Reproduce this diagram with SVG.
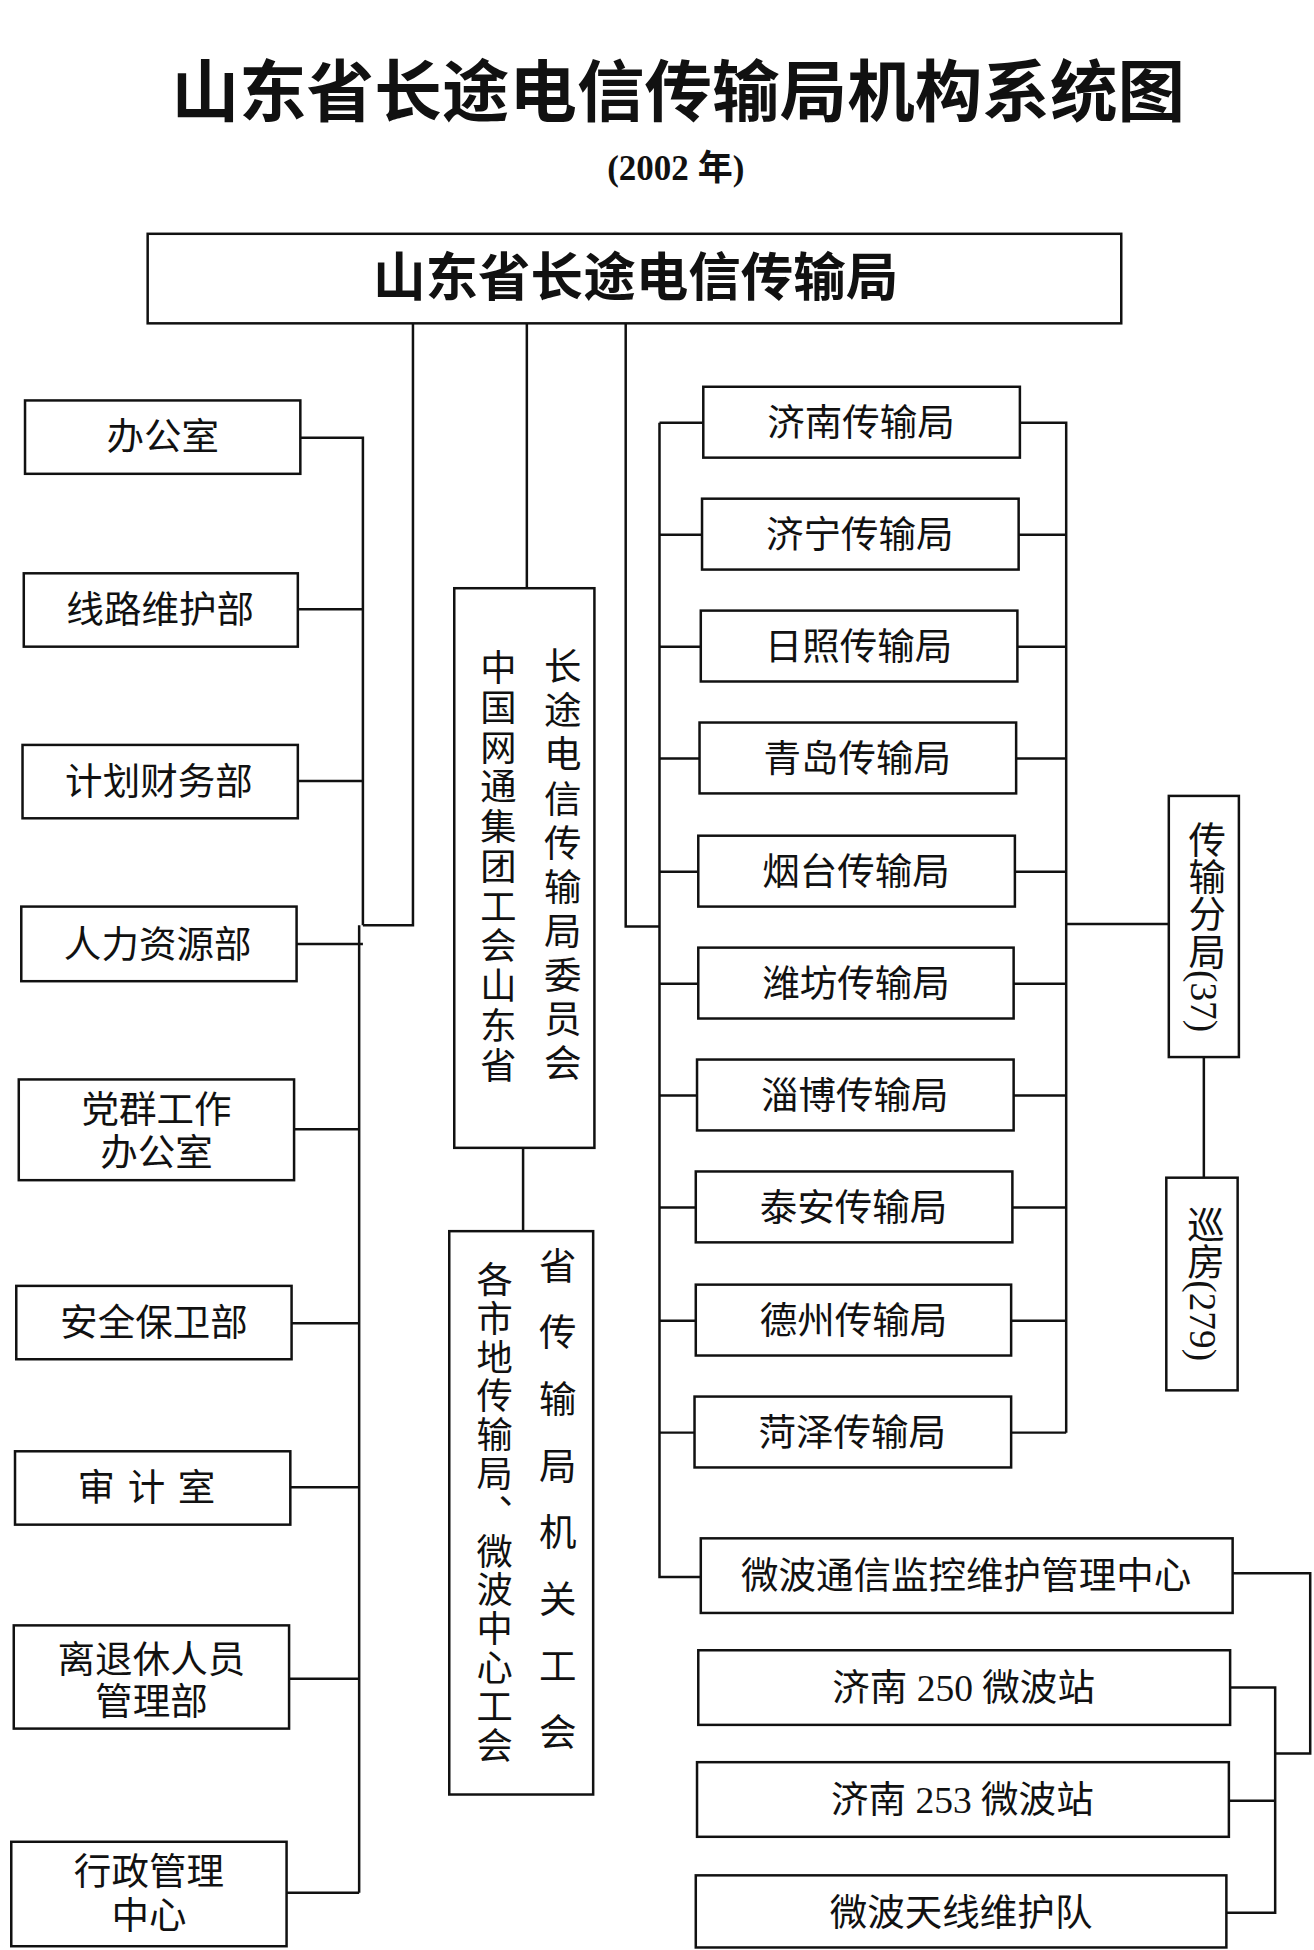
<svg xmlns="http://www.w3.org/2000/svg" width="1314" height="1950" viewBox="0 0 1314 1950">
<style>
text{font-family:"Liberation Serif","Noto Sans CJK SC",serif;fill:#111}
.b{fill:#fff;stroke:#111;stroke-width:2}
.t{font-size:30px;text-anchor:middle}
.v{font-size:30px;writing-mode:vertical-rl;text-anchor:middle}
.c{fill:none;stroke:#111;stroke-width:2}
</style>
<rect width="1314" height="1950" fill="#fff"/>
<g transform="scale(1.2514 1.2436)">
<text x="542" y="93" style="font-size:54px;font-weight:bold;text-anchor:middle">山东省长途电信传输局机构系统图</text>
<text x="540" y="145" style="font-size:28px;font-weight:bold;text-anchor:middle">(2002 年)</text>
<g id="connectors" class="c">
<path d="M330 260V744H290M240 352H290V744M421 260V473M500 260V745H527"/>
<path d="M238 490H290M238 628H290M237 759H290M287 744V1522M235 908H287M233 1064H287M232 1196H287M231 1350H287M229 1522H287"/>
<path d="M418 923V990"/>
<path d="M527 340V1268H560M527 340H562M527 430H561M527 520H560M527 610H559M527 701H558M527 791H558M527 881H557M527 971H556M527 1062H556M527 1152H555"/>
<path d="M815 340H852V1152M814 430H852M813 520H852M812 610H852M811 701H852M810 791H852M810 881H852M809 971H852M808 1062H852M808 1152H852M852 743H934M962 850V947"/>
<path d="M985 1265H1047V1410H1019M983 1357H1019V1538H980M982 1448H1019"/>
</g>
<g id="n-main"><rect class="b" x="118" y="188" width="778" height="72"/><text x="508" y="238" style="font-size:42px;font-weight:bold;text-anchor:middle">山东省长途电信传输局</text></g>
<g id="n-l1"><rect class="b" x="20" y="322" width="220" height="59"/><text class="t" x="130" y="362">办公室</text></g>
<g id="n-l2"><rect class="b" x="19" y="461" width="219" height="59"/><text class="t" x="128" y="501">线路维护部</text></g>
<g id="n-l3"><rect class="b" x="18" y="599" width="220" height="59"/><text class="t" x="127" y="639">计划财务部</text></g>
<g id="n-l4"><rect class="b" x="17" y="729" width="220" height="60"/><text class="t" x="126" y="770">人力资源部</text></g>
<g id="n-l5"><rect class="b" x="15" y="868" width="220" height="81"/><text class="t" x="125" y="903">党群工作</text><text class="t" x="125" y="938">办公室</text></g>
<g id="n-l6"><rect class="b" x="13" y="1034" width="220" height="59"/><text class="t" x="123" y="1074">安全保卫部</text></g>
<g id="n-l7"><rect class="b" x="12" y="1167" width="220" height="59"/><text class="t" x="122" y="1207" style="letter-spacing:10px">审计室</text></g>
<g id="n-l8"><rect class="b" x="11" y="1307" width="220" height="83"/><text class="t" x="121" y="1345">离退休人员</text><text class="t" x="121" y="1379">管理部</text></g>
<g id="n-l9"><rect class="b" x="9" y="1481" width="220" height="84"/><text class="t" x="119" y="1516">行政管理</text><text class="t" x="119" y="1551">中心</text></g>
<g id="n-m1"><rect class="b" x="363" y="473" width="112" height="450"/>
<text x="447" y="698" class="v" style="letter-spacing:5.5px">长途电信传输局委员会</text>
<text x="395" y="698" class="v" style="font-size:29px;letter-spacing:3px">中国网通集团工会山东省</text></g>
<g id="n-m2"><rect class="b" x="359" y="990" width="115" height="453"/>
<text x="443" y="1217" class="v" style="letter-spacing:23.6px">省传输局机关工会</text>
<text x="392" y="1217" class="v" style="font-size:29px;letter-spacing:2.2px">各市地传输局、微波中心工会</text></g>
<g id="n-r1"><rect class="b" x="562" y="311" width="253" height="57"/><text class="t" x="688" y="351">济南传输局</text></g>
<g id="n-r2"><rect class="b" x="561" y="401" width="253" height="57"/><text class="t" x="687" y="441">济宁传输局</text></g>
<g id="n-r3"><rect class="b" x="560" y="491" width="253" height="57"/><text class="t" x="686" y="531">日照传输局</text></g>
<g id="n-r4"><rect class="b" x="559" y="581" width="253" height="57"/><text class="t" x="685" y="621">青岛传输局</text></g>
<g id="n-r5"><rect class="b" x="558" y="672" width="253" height="57"/><text class="t" x="684" y="712">烟台传输局</text></g>
<g id="n-r6"><rect class="b" x="558" y="762" width="252" height="57"/><text class="t" x="684" y="802">潍坊传输局</text></g>
<g id="n-r7"><rect class="b" x="557" y="852" width="253" height="57"/><text class="t" x="683" y="892">淄博传输局</text></g>
<g id="n-r8"><rect class="b" x="556" y="942" width="253" height="57"/><text class="t" x="682" y="982">泰安传输局</text></g>
<g id="n-r9"><rect class="b" x="556" y="1033" width="252" height="57"/><text class="t" x="682" y="1073">德州传输局</text></g>
<g id="n-r10"><rect class="b" x="555" y="1123" width="253" height="57"/><text class="t" x="681" y="1163">菏泽传输局</text></g>
<g id="n-fj"><rect class="b" x="934" y="640" width="56" height="210"/><text x="962" y="745" class="v">传输分局(37)</text></g>
<g id="n-xf"><rect class="b" x="932" y="947" width="57" height="171"/><text x="961" y="1032" class="v">巡房(279)</text></g>
<g id="n-wb"><rect class="b" x="560" y="1237" width="425" height="60"/><text class="t" x="772" y="1278">微波通信监控维护管理中心</text></g>
<g id="n-w1"><rect class="b" x="558" y="1327" width="425" height="60"/><text class="t" x="770" y="1368">济南 250 微波站</text></g>
<g id="n-w2"><rect class="b" x="557" y="1417" width="425" height="60"/><text class="t" x="769" y="1458">济南 253 微波站</text></g>
<g id="n-w3"><rect class="b" x="556" y="1508" width="424" height="58"/><text class="t" x="768" y="1549">微波天线维护队</text></g>
</g>
</svg>
